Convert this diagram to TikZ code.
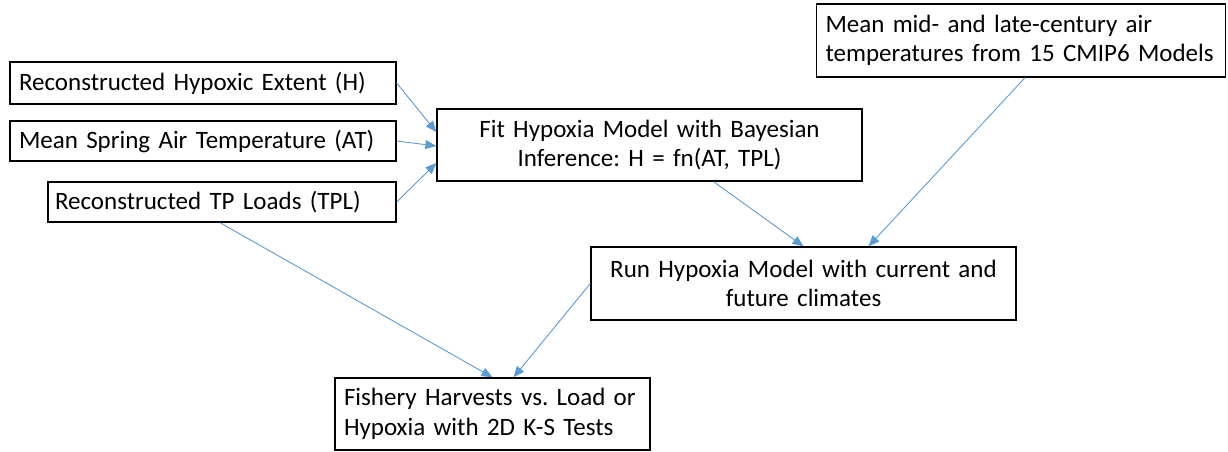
\documentclass[tikz,border=0pt]{standalone}
\usepackage{fontspec}
\setmainfont[WordSpace=0.9]{Carlito}
\usetikzlibrary{arrows.meta}
\definecolor{arrowblue}{RGB}{91,155,213}
\frenchspacing
\begin{document}
\begin{tikzpicture}[x=1pt,y=-1pt,
  box/.style={draw=black, line width=1.3pt, rectangle, inner xsep=9pt, inner ysep=0pt,
    font=\fontsize{25}{29.5}\selectfont},
  link/.style={draw=arrowblue, line width=0.9pt, -{Triangle[length=11pt,width=9pt]}}]
\useasboundingbox (0,0) rectangle (1228,451);
\node[box, minimum width=386pt, minimum height=42pt, text width=368pt, align=left] (H) at (203,83) {Reconstructed Hypoxic Extent (H)};
\node[box, minimum width=386pt, minimum height=40pt, text width=368pt, align=left] (AT) at (203,141) {Mean Spring Air Temperature (AT)};
\node[box, minimum width=348pt, minimum height=40pt, text width=334pt, align=left, inner xsep=7pt] (TPL) at (222,202) {Reconstructed TP Loads (TPL)};
\node[box, minimum width=425pt, minimum height=72pt, text width=407pt, align=center] (Fit) at (649.5,145) {Fit Hypoxia Model with Bayesian\\Inference: H = fn(AT, TPL)};
\node[box, minimum width=409pt, minimum height=73pt, text width=391pt, align=left] (CMIP) at (1021,40.5) {Mean mid- and late-century air\\temperatures from 15 CMIP6 Models};
\node[box, minimum width=425pt, minimum height=73pt, text width=407pt, align=center] (Run) at (803.5,283.5) {Run Hypoxia Model with current and\\future climates};
\node[box, minimum width=315pt, minimum height=72pt, text width=297pt, align=left, inner xsep=9pt] (Fish) at (492.5,414) {Fishery Harvests vs. Load or\\Hypoxia with 2D K-S Tests};
\draw[link] (H.east) -- ([yshift=13pt]Fit.west);
\draw[link] (AT.east) -- ([yshift=-1pt]Fit.west);
\draw[link] (TPL.east) -- ([yshift=-18pt]Fit.west);
\draw[link] ([xshift=64pt]Fit.south) -- (Run.north);
\draw[link] ([xshift=4pt]CMIP.south) -- ([xshift=65pt]Run.north);
\draw[link] ([xshift=-2pt]TPL.south) -- (Fish.north);
\draw[link] (Run.west) -- ([xshift=21pt]Fish.north);
\end{tikzpicture}
\end{document}
